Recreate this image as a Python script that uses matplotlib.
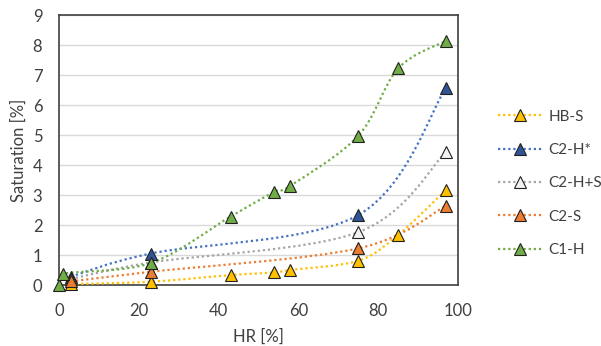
import numpy as np
import matplotlib
matplotlib.use("Agg")
import matplotlib.pyplot as plt
from matplotlib.path import Path
from matplotlib.patches import PathPatch
from matplotlib.lines import Line2D

plt.rcParams['font.family'] = ['Lato', 'DejaVu Sans']

series_names = ["HB-S", "C2-H*", "C2-H+S", "C2-S", "C1-H"]
hb_s_x = [3, 23, 43, 54, 58, 75, 85, 97]
hb_s_y = [0.03, 0.11, 0.33, 0.42, 0.5, 0.81, 1.67, 3.17]
c2_h_x = [3, 23, 75, 97]
c2_h_y = [0.28, 1.05, 2.33, 6.58]
c2_hs_x = [3, 23, 75, 97]
c2_hs_y = [0.2, 0.75, 1.76, 4.44]
c2_s_x = [3, 23, 75, 97]
c2_s_y = [0.12, 0.44, 1.22, 2.64]
c1_h_x = [0, 1, 23, 43, 54, 58, 75, 85, 97]
c1_h_y = [0.0, 0.37, 0.73, 2.28, 3.11, 3.31, 4.97, 7.22, 8.14]

line_colors = ["#FFC000", "#4472C4", "#A5A5A5", "#ED7D31", "#70AD47"]
marker_colors = ["#FFC000", "#2F5597", "#F2F2F2", "#ED7D31", "#70AD47"]
data = [(hb_s_x, hb_s_y), (c2_h_x, c2_h_y), (c2_hs_x, c2_hs_y),
        (c2_s_x, c2_s_y), (c1_h_x, c1_h_y)]


def smooth_path(xs, ys):
    p = np.column_stack([xs, ys]).astype(float)
    n = len(p)
    verts = [p[0]]
    codes = [Path.MOVETO]
    for i in range(n - 1):
        p0 = p[i - 1] if i > 0 else p[i]
        p1 = p[i]
        p2 = p[i + 1]
        p3 = p[i + 2] if i + 2 < n else p[i + 1]
        c1 = p1 + (p2 - p0) / 6.0
        c2 = p2 - (p3 - p1) / 6.0
        verts += [c1, c2, p2]
        codes += [Path.CURVE4] * 3
    return Path(verts, codes)


fig = plt.figure(figsize=(6.01, 3.46), dpi=100)
ax = fig.add_axes([59 / 601, 61 / 346, 399 / 601, 270 / 346])

handles = []
for (xs, ys), lc, mc, name in zip(data, line_colors, marker_colors, series_names):
    patch = PathPatch(smooth_path(xs, ys), fill=False, edgecolor=lc,
                      lw=1.6, linestyle=(0, (1, 1.3)), zorder=3)
    ax.add_patch(patch)
    ax.plot(xs, ys, linestyle='none', marker='^', markersize=8,
            markerfacecolor=mc, markeredgecolor='#202020', markeredgewidth=0.8,
            zorder=4, clip_on=False)
    handles.append(Line2D([], [], color=lc, lw=1.6, linestyle=(0, (1, 1.3)),
                          marker='^', markersize=8, markerfacecolor=mc,
                          markeredgecolor='#202020', markeredgewidth=0.8,
                          label=name))

ax.set_xlim(0, 100)
ax.set_ylim(0, 9)
ax.set_xticks([0, 20, 40, 60, 80, 100])
ax.set_yticks(range(0, 10))
ax.yaxis.grid(True, color='#D9D9D9', lw=1)
ax.set_axisbelow(True)
for s in ax.spines.values():
    s.set_color('#404040')
    s.set_linewidth(1.2)
ax.tick_params(length=0, labelsize=12, colors='#404040')
ax.tick_params(axis='x', pad=13)
ax.tick_params(axis='y', pad=12)
ax.set_xlabel("HR [%]", fontsize=12, color='#404040', labelpad=7)
ax.set_ylabel("Saturation [%]", fontsize=12, color='#404040', labelpad=4)

fig.legend(handles=handles, loc='center left', bbox_to_anchor=(498 / 601, 0.47),
           frameon=False, fontsize=11, handlelength=2.9, labelspacing=1.27,
           labelcolor='#404040', handletextpad=0.4, borderaxespad=0, borderpad=0)

fig.savefig("out.png", dpi=100)
